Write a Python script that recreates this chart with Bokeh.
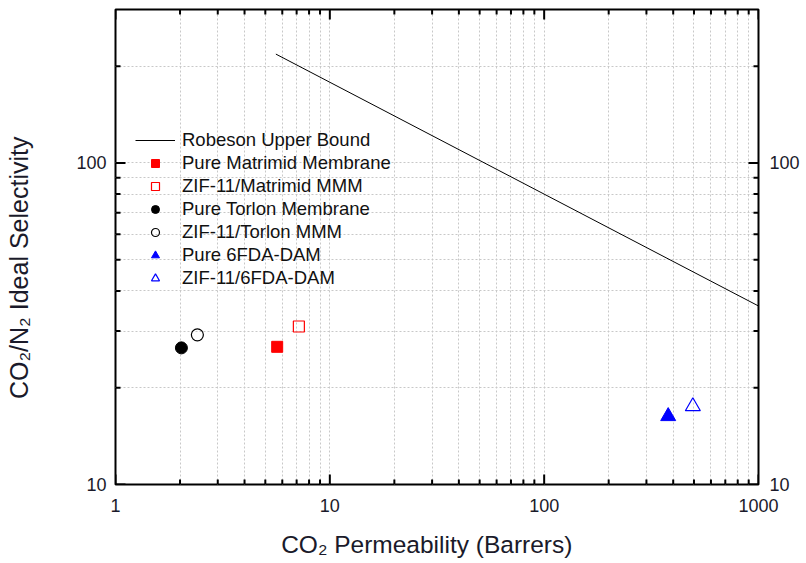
import math
from bokeh.plotting import figure
from bokeh.models import (LogAxis, FixedTicker, PrintfTickFormatter, Range1d, Legend, LegendItem)
from bokeh.embed import file_html
from bokeh.resources import INLINE

# ---- data ----
robeson_x = [5.6, 1000]
robeson_y = [218.0, 35.9]

matrimid_x = [5.68]
matrimid_y = [26.8]
zif_matrimid_x = [7.17]
zif_matrimid_y = [31.0]
torlon_x = [2.03]
torlon_y = [26.6]
zif_torlon_x = [2.41]
zif_torlon_y = [29.2]
fda_x = [379]
fda_y = [16.3]
zif_fda_x = [494]
zif_fda_y = [17.5]

x_lo, x_hi = 1, 1000
y_lo, y_hi = 10, 300
x_major = [1, 10, 100, 1000]
x_minor = [2, 3, 4, 5, 6, 7, 8, 9, 20, 30, 40, 50, 60, 70, 80, 90,
           200, 300, 400, 500, 600, 700, 800, 900]
y_major = [10, 100]
y_minor = [20, 30, 40, 50, 60, 70, 80, 90, 200]

FONT = "Liberation Sans"
GRID = "#c8c8c8"
TXT = "#1a1a2a"
NB = "\u00a0"
FRAME_W, FRAME_H = 643, 475
MAJOR_LEN, MINOR_LEN = 10, 5

p = figure(frame_width=FRAME_W, frame_height=FRAME_H,
           x_axis_type="log", y_axis_type="log",
           x_range=Range1d(x_lo, x_hi), y_range=Range1d(y_lo, y_hi),
           output_backend="svg", toolbar_location=None,
           min_border_left=115, min_border_right=42, min_border_top=9,
           min_border_bottom=78)
p.outline_line_color = "black"
p.outline_line_width = 2

def style_axis(ax, ticks, minor):
    ax.ticker = FixedTicker(ticks=ticks, minor_ticks=minor)
    ax.formatter = PrintfTickFormatter(format="%d")
    ax.axis_line_color = None
    ax.major_tick_line_color = None
    ax.minor_tick_line_color = None
    ax.major_tick_in = 0
    ax.major_tick_out = 0
    ax.minor_tick_in = 0
    ax.minor_tick_out = 0
    ax.major_label_text_font = FONT
    ax.major_label_text_font_size = "18px"
    ax.major_label_text_color = TXT
    ax.axis_label_text_font = FONT
    ax.axis_label_text_font_style = "normal"
    ax.axis_label_text_color = TXT

xa = p.xaxis[0]
style_axis(xa, x_major, x_minor)
xa.axis_label = "CO\u2082 Permeability (Barrers)" + NB * 3
xa.axis_label_text_font_size = "24.5px"
xa.major_label_standoff = 14
xa.axis_label_standoff = 16

ya = p.yaxis[0]
style_axis(ya, y_major, y_minor)
ya.axis_label = "CO\u2082/N\u2082 Ideal Selectivity" + NB * 6
ya.axis_label_text_font_size = "25px"
ya.major_label_standoff = 9
ya.axis_label_standoff = 40

ra = LogAxis()
style_axis(ra, y_major, y_minor)
ra.major_label_standoff = 11
p.add_layout(ra, "right")

for g, ticks, minor in ((p.xgrid[0], x_major, x_minor), (p.ygrid[0], y_major, y_minor)):
    g.ticker = FixedTicker(ticks=ticks, minor_ticks=minor)
    g.grid_line_color = GRID
    g.grid_line_dash = "2 2"
    g.grid_line_width = 1
    g.minor_grid_line_color = GRID
    g.minor_grid_line_dash = "2 2"
    g.minor_grid_line_width = 1

# inward tick marks on all four sides, drawn as segments from the tick lists
px_per_dec_x = FRAME_W / (math.log10(x_hi) - math.log10(x_lo))
px_per_dec_y = FRAME_H / (math.log10(y_hi) - math.log10(y_lo))

def ticks_x(vals, length):
    k = 10 ** (length / px_per_dec_y)
    n = len(vals)
    p.segment(x0=vals + vals, x1=vals + vals,
              y0=[y_lo] * n + [y_hi] * n, y1=[y_lo * k] * n + [y_hi / k] * n,
              line_color="black", line_width=2)

def ticks_y(vals, length):
    k = 10 ** (length / px_per_dec_x)
    n = len(vals)
    p.segment(y0=vals + vals, y1=vals + vals,
              x0=[x_lo] * n + [x_hi] * n, x1=[x_lo * k] * n + [x_hi / k] * n,
              line_color="black", line_width=2)

ticks_x(x_major, MAJOR_LEN)
ticks_x(x_minor, MINOR_LEN)
ticks_y(y_major, MAJOR_LEN)
ticks_y(y_minor, MINOR_LEN)

r_line = p.line(robeson_x, robeson_y, line_color="black", line_width=1)
r1 = p.scatter(matrimid_x, matrimid_y, marker="square", size=11,
               fill_color="red", line_color="red")
r2 = p.scatter(zif_matrimid_x, zif_matrimid_y, marker="square", size=11,
               fill_color=None, line_color="red", line_width=1.2)
r3 = p.scatter(torlon_x, torlon_y, marker="circle", size=12,
               fill_color="black", line_color="black")
r4 = p.scatter(zif_torlon_x, zif_torlon_y, marker="circle", size=12,
               fill_color=None, line_color="black", line_width=1.2)
r5 = p.scatter(fda_x, fda_y, marker="triangle", size=15,
               fill_color="blue", line_color="blue")
r6 = p.scatter(zif_fda_x, zif_fda_y, marker="triangle", size=15,
               fill_color=None, line_color="blue", line_width=1.2)

legend = Legend(items=[
    LegendItem(label="Robeson Upper Bound", renderers=[r_line]),
    LegendItem(label="Pure Matrimid Membrane", renderers=[r1]),
    LegendItem(label="ZIF-11/Matrimid MMM", renderers=[r2]),
    LegendItem(label="Pure Torlon Membrane", renderers=[r3]),
    LegendItem(label="ZIF-11/Torlon MMM", renderers=[r4]),
    LegendItem(label="Pure 6FDA-DAM", renderers=[r5]),
    LegendItem(label="ZIF-11/6FDA-DAM", renderers=[r6]),
], location=(20, 195))
legend.padding = 0
legend.margin = 0
legend.border_line_alpha = 0
legend.background_fill_alpha = 0
legend.label_text_font = FONT
legend.label_text_font_size = "18.5px"
legend.label_text_color = "#111111"
legend.glyph_width = 40
legend.glyph_height = 20
legend.label_height = 20
legend.spacing = 1
legend.label_standoff = 7
p.add_layout(legend, "center")

open("out.html", "w").write(file_html(p, INLINE))
